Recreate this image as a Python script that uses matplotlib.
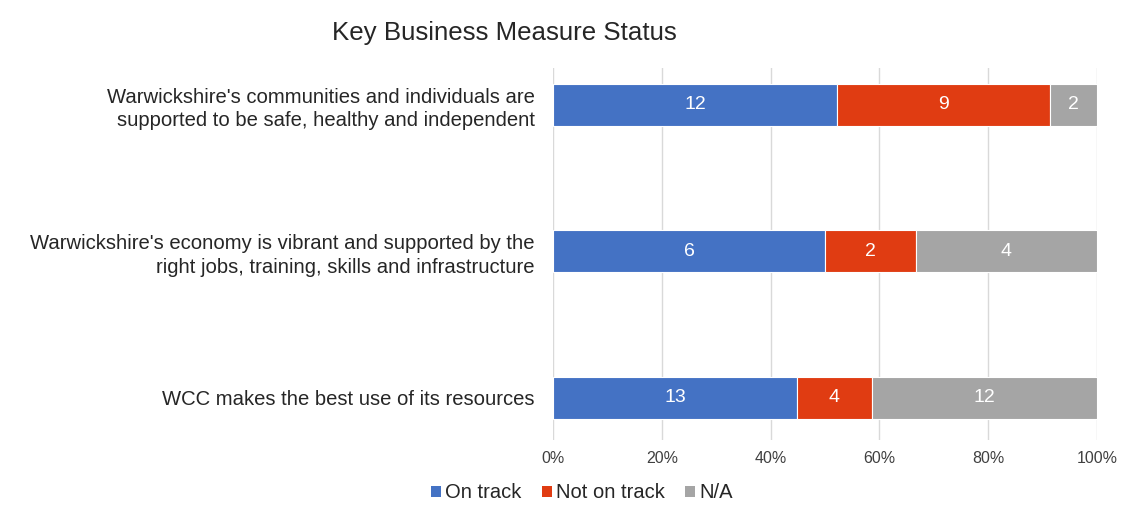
import matplotlib
matplotlib.use("Agg")
import matplotlib.pyplot as plt
from matplotlib.patches import Patch

plt.rcParams['font.family'] = ['Liberation Sans', 'DejaVu Sans']

categories = [
    "Warwickshire's communities and individuals are\nsupported to be safe, healthy and independent",
    "Warwickshire's economy is vibrant and supported by the\nright jobs, training, skills and infrastructure",
    "WCC makes the best use of its resources",
]
series_names = ["On track", "Not on track", "N/A"]
on_track = [12, 6, 13]
not_on_track = [9, 2, 4]
na = [2, 4, 12]
colors = ["#4472C4", "#E03C12", "#A5A5A5"]
xticks = [0, 20, 40, 60, 80, 100]
xticklabels = ["0%", "20%", "40%", "60%", "80%", "100%"]

W, H = 1147, 524
fig = plt.figure(figsize=(W / 100, H / 100), dpi=100)
ax = fig.add_axes([553 / W, 1 - 440 / H, (1097 - 553) / W, (440 - 68) / H])

series = [on_track, not_on_track, na]
totals = [sum(v) for v in zip(*series)]
ypos = list(range(len(categories)))
left = [0.0] * len(categories)
for name, vals, col in zip(series_names, series, colors):
    pct = [v / t * 100 for v, t in zip(vals, totals)]
    bars = ax.barh(ypos, pct, left=left, height=0.287, color=col,
                   edgecolor="white", linewidth=0.8, label=name, zorder=3)
    for b, v in zip(bars, vals):
        ax.text(b.get_x() + b.get_width() / 2, b.get_y() + b.get_height() / 2,
                str(v), ha="center", va="center", color="white",
                fontsize=14, zorder=4)
    left = [l + p for l, p in zip(left, pct)]

ax.set_xlim(0, 100)
ax.set_ylim(2.29, -0.25)
ax.set_xticks(xticks)
ax.set_xticklabels(xticklabels, fontsize=11.5, color="#404040")
ax.set_yticks(ypos)
ax.set_yticklabels(categories, fontsize=14.6, color="#262626", linespacing=1.3)
ax.tick_params(axis="both", length=0)
ax.tick_params(axis="y", pad=13)
ax.tick_params(axis="x", pad=8)
ax.xaxis.grid(True, color="#D9D9D9", linewidth=1, zorder=0)
for s in ax.spines.values():
    s.set_visible(False)

fig.text(504 / W, 1 - 33 / H, "Key Business Measure Status", ha="center",
         va="center", fontsize=18.6, color="#262626")

handles = [Patch(facecolor=c, label=n) for c, n in zip(colors, series_names)]
fig.legend(handles=handles, loc="center", bbox_to_anchor=(582 / W, 1 - 493 / H),
           ncol=3, frameon=False, fontsize=14.5, handlelength=0.5, handleheight=0.5,
           handletextpad=0.2, columnspacing=1.0, labelcolor="#262626")

fig.savefig("out.png", dpi=100)
